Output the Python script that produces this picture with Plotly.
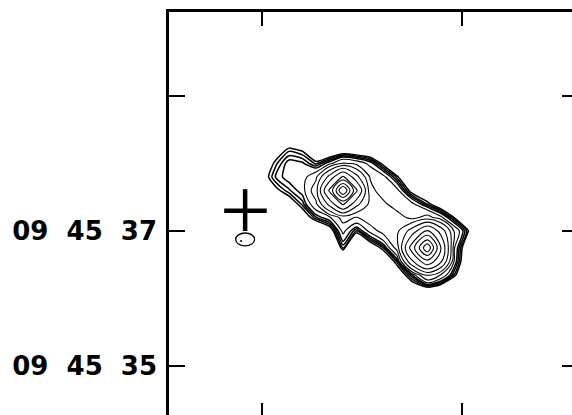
import plotly.graph_objects as go

# ---- data ----
# grid of relative RA offsets (arcsec) and Dec seconds (arcsec), rows listed top -> bottom
ra_offset = [0.00, 0.20, 0.40, 0.60, 0.80, 1.00, 1.20, 1.40, 1.60, 1.80,
             2.00, 2.22, 2.45, 2.65, 2.85, 3.05, 3.25]
dec_sec = [38.40, 38.20, 38.00, 37.80, 37.60, 37.40, 37.20, 37.00,
           36.75, 36.55, 36.35, 36.15, 35.95]

flux = [
    [-4, -2.5, -1.3, -1.8, -3, -4, -4, -4, -4, -4, -4, -4, -4, -4, -4, -4, -4],
    [-2.6, -0.3, 1.4, 0.8, -1.2, -1.9, -1.1, -1.5, -1.9, -2.9, -4, -4, -4, -4, -4, -4, -4],
    [-1.0, 1.36, 3.3, 3.0, 1.4, 3.49, 6.29, 5.31, 3.49, 0.41, -3.2, -4, -4, -4, -4, -4, -4],
    [-0.2, 2.26, 3.3, 3.3, 5.5, 14.5, 25, 14.5, 5.8, 4.5, 1.39, -2.8, -4, -4, -4, -4, -4],
    [-1.46, 0.46, 2.06, 3.3, 7.5, 25, 52, 25, 7.0, 4.5, 4.5, 0.11, -1.64, -4, -4, -4, -4],
    [-3.4, -1.66, -0.5, 1.86, 5.5, 14.5, 25, 14.5, 8.1, 6.6, 4.5, 4.5, 1.54, -0.96, -3.3, -4, -4],
    [-4, -4, -2.95, -0.63, 2.1, 3.71, 7.0, 5.8, 7.8, 8.3, 7.4, 5.1, 7.0, 4.47, 0.89, -1.57, -4],
    [-4, -4, -4, -3.3, -2.64, -0.39, 4.5, 1.5, 4.5, 7.1, 8.2, 15.0, 24.5, 16.0, 5.6, 1.23, -3.4],
    [-4, -4, -4, -4, -4, -3.07, 1.74, -3.46, -0.96, 1.66, 7.0, 27.0, 50, 24.0, 4.05, -1.2, -4],
    [-4, -4, -4, -4, -4, -4, -3.07, -4, -4, -1.75, 1.82, 17.0, 29.0, 19.0, 3.63, -1.82, -4],
    [-4, -4, -4, -4, -4, -4, -4, -4, -4, -4, -1.1, 2.77, 9.5, 5.87, 1.5, -2.6, -4],
    [-4, -4, -4, -4, -4, -4, -4, -4, -4, -4, -4, -0.93, 0.14, -0.93, -2.9, -4, -4],
    [-4, -4, -4, -4, -4, -4, -4, -4, -4, -4, -4, -4, -4, -4, -4, -4, -4],
]

edge_levels = [1.0, 1.6, 2.2, 2.8]
inner_levels = [4, 6, 9, 13, 18, 24, 31, 38, 44]

dec_ticks = [39, 37, 35]
dec_labels = ["", "09  45  37", "09  45  35"]
ra_ticks = [0.0, 2.963]

cross_pos = [-0.25, 37.30]
cross_x_span = [-0.56, 0.07]
cross_y_span = [37.00, 37.62]

beam_x_span = [-0.39, -0.11]
beam_y_span = [36.78, 36.97]
beam_dot = [-0.31, 36.85]

x_range = [-1.3778, 4.5926]
y_range = [34.274, 40.244]

# ---- figure ----
y_asc = dec_sec[::-1]
z_asc = flux[::-1]

fig = go.Figure()

for lv in edge_levels:
    fig.add_trace(go.Contour(
        x=ra_offset, y=y_asc, z=z_asc, autocontour=False,
        contours=dict(start=lv, end=lv, size=1, coloring="none"),
        line=dict(color="black", width=1.5, smoothing=0.6),
        showscale=False, hoverinfo="skip"))

for lv in inner_levels:
    fig.add_trace(go.Contour(
        x=ra_offset, y=y_asc, z=z_asc, autocontour=False,
        contours=dict(start=lv, end=lv, size=1, coloring="none"),
        line=dict(color="black", width=1.1, smoothing=1.0),
        showscale=False, hoverinfo="skip"))

# cross marking the position
fig.add_trace(go.Scatter(
    x=[cross_x_span[0], cross_x_span[1], None, cross_pos[0], cross_pos[0]],
    y=[cross_pos[1], cross_pos[1], None, cross_y_span[0], cross_y_span[1]],
    mode="lines", line=dict(color="black", width=4.5),
    showlegend=False, hoverinfo="skip"))

# beam dot
fig.add_trace(go.Scatter(
    x=[beam_dot[0]], y=[beam_dot[1]], mode="markers",
    marker=dict(color="black", size=2), showlegend=False, hoverinfo="skip"))

# helper trace for mirrored axes
fig.add_trace(go.Scatter(x=[None], y=[None], xaxis="x2", yaxis="y2",
                         showlegend=False, hoverinfo="skip"))

fig.add_shape(type="circle", xref="x", yref="y",
              x0=beam_x_span[0], x1=beam_x_span[1],
              y0=beam_y_span[0], y1=beam_y_span[1],
              line=dict(color="black", width=1.3))

common = dict(showgrid=False, zeroline=False, tickcolor="black", tickwidth=2)

fig.update_layout(
    width=572, height=415,
    margin=dict(l=169, r=0, t=12, b=0),
    paper_bgcolor="white", plot_bgcolor="white",
    showlegend=False,
    xaxis=dict(range=x_range, tickvals=ra_ticks, ticks="inside", ticklen=12,
               showticklabels=False, showline=False, **common),
    xaxis2=dict(range=x_range, overlaying="x", side="top", tickvals=ra_ticks,
                ticks="inside", ticklen=14, showticklabels=False,
                showline=True, linewidth=2.5, linecolor="black", **common),
    yaxis=dict(range=y_range, tickvals=dec_ticks, ticktext=dec_labels,
               ticks="inside", ticklen=16, showline=True, linewidth=2.5,
               linecolor="black", ticklabelstandoff=4,
               tickfont=dict(family="DejaVu Sans", size=26, color="black",
                             weight="bold"), **common),
    yaxis2=dict(range=y_range, overlaying="y", side="right", tickvals=dec_ticks,
                ticks="inside", ticklen=10, showticklabels=False,
                showline=False, **common),
)

fig.write_html("out.html")
